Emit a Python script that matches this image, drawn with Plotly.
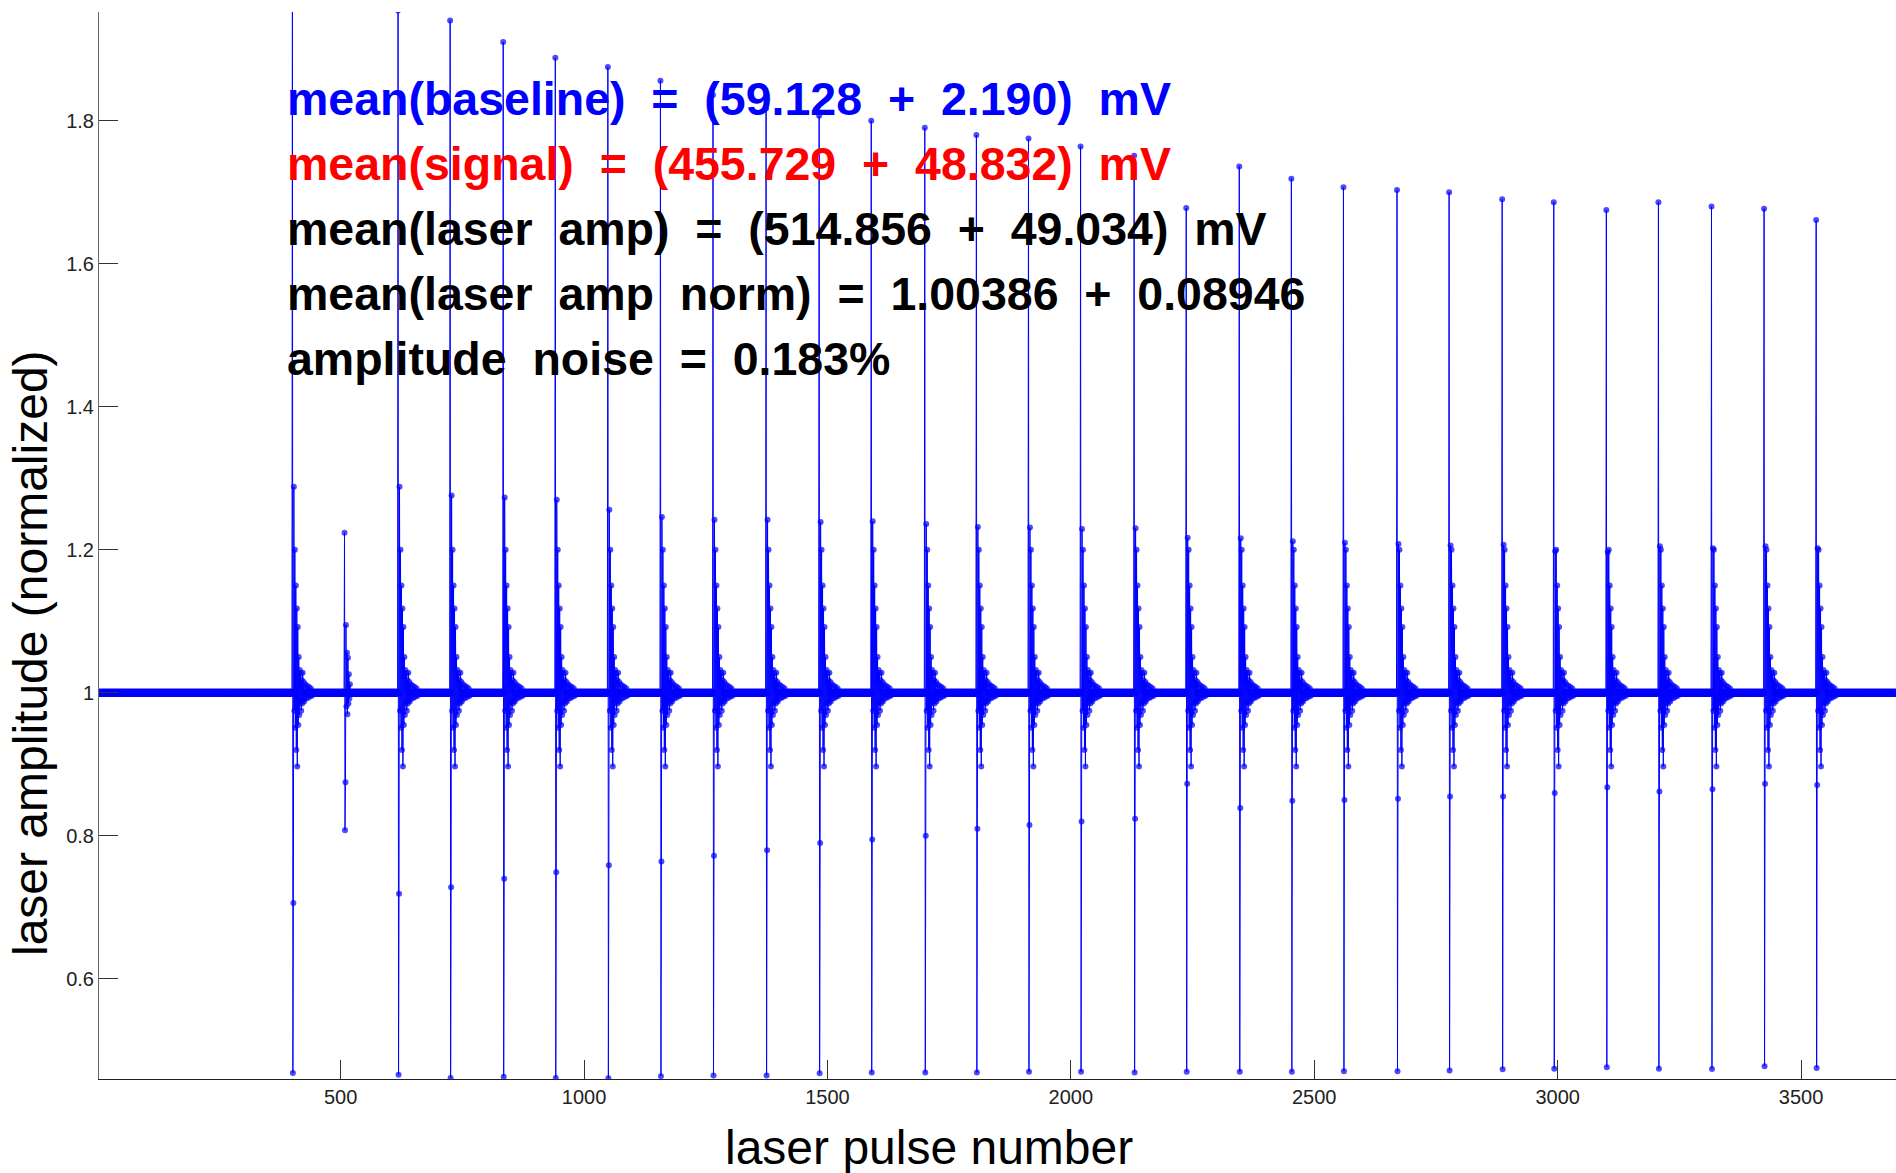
import numpy as np
import plotly.graph_objects as go

# ---------------- data ----------------
n_pulses = 3700
baseline_level = 1.0

# main disturbance events: pulse number of the big spike
event_pulse = [401, 618, 725, 834, 941, 1049, 1157, 1265, 1374, 1483, 1590, 1700,
               1806, 1913, 2020, 2130, 2237, 2346, 2453, 2560, 2670, 2777, 2886,
               2992, 3100, 3207, 3316, 3424, 3531]
event_peak = [2.02, 1.954, 1.94, 1.91, 1.888, 1.875, 1.856, 1.836, 1.817, 1.807, 1.80, 1.79,
              1.78, 1.775, 1.764, 1.751, 1.678, 1.736, 1.719, 1.707, 1.703, 1.70, 1.69,
              1.686, 1.675, 1.686, 1.680, 1.677, 1.661]
event_trough = [0.4685, 0.466, 0.4615, 0.463, 0.4615, 0.461, 0.464, 0.465, 0.465, 0.468,
                0.469, 0.469, 0.469, 0.470, 0.470, 0.469, 0.470, 0.470, 0.470, 0.471,
                0.471, 0.472, 0.4737, 0.4745, 0.4765, 0.4745, 0.474, 0.478, 0.4755]
event_low2 = [0.706, 0.719, 0.728, 0.740, 0.749, 0.759, 0.764, 0.772, 0.780, 0.790, 0.795,
              0.800, 0.810, 0.815, 0.820, 0.824, 0.873, 0.839, 0.849, 0.850, 0.852, 0.855,
              0.855, 0.860, 0.868, 0.862, 0.865, 0.873, 0.871]
event_high1 = [1.288, 1.288, 1.276, 1.273, 1.270, 1.256, 1.246, 1.242, 1.242, 1.239, 1.240,
               1.236, 1.232, 1.231, 1.229, 1.230, 1.217, 1.216, 1.212, 1.210, 1.208, 1.206,
               1.207, 1.198, 1.197, 1.205, 1.202, 1.205, 1.202]

# ringing after each event (pulse offset after the spike, amplitude)
ring_offsets = [4, 5, 6, 7, 8, 9, 10, 11, 12, 13, 14, 15, 16, 17, 18, 19, 20, 21, 22, 23,
                24, 26, 28, 30, 32, 34, 36, 38, 40]
ring_values = [0.975, 1.200, 0.951, 1.150, 0.920, 1.118, 0.897, 1.092, 0.955, 1.050, 0.969,
               1.032, 0.986, 1.027, 0.975, 1.018, 0.985, 1.028, 0.990, 1.015, 0.988, 1.012,
               0.992, 1.010, 0.993, 1.008, 0.995, 1.006, 0.996]

# the small event near pulse 508
small_pulse = 508
small_values = [1.224, 0.808, 0.875, 1.095, 0.981, 1.056, 0.970, 1.049, 0.985, 1.026,
                0.992, 1.012]

x_ticks = [500, 1000, 1500, 2000, 2500, 3000, 3500]
y_ticks = [0.6, 0.8, 1.0, 1.2, 1.4, 1.6, 1.8]
y_ticktext = ["0.6", "0.8", "1", "1.2", "1.4", "1.6", "1.8"]

text_lines = [
    ("mean(baseline)  =  (59.128  +  2.190)  mV", "#0000ff"),
    ("mean(signal)  =  (455.729  +  48.832)  mV", "#ff0000"),
    ("mean(laser  amp)  =  (514.856  +  49.034)  mV", "#000000"),
    ("mean(laser  amp  norm)  =  1.00386  +  0.08946", "#000000"),
    ("amplitude  noise  =  0.183%", "#000000"),
]

# ---------------- build series ----------------
x = np.arange(1, n_pulses + 1)
y = np.full(n_pulses, baseline_level)
for p, pk, tr, lo, hi in zip(event_pulse, event_peak, event_trough, event_low2, event_high1):
    i = p - 1
    y[i] = pk
    y[i + 1] = tr
    y[i + 2] = lo
    y[i + 3] = hi
    for off, v in zip(ring_offsets, ring_values):
        y[i + off] = v
for k, v in enumerate(small_values):
    y[small_pulse - 1 + k] = v

sizes = np.where(y == baseline_level, 8, 6)

fig = go.Figure()
fig.add_trace(go.Scatter(
    x=x, y=y, mode="lines+markers",
    line=dict(color="#0000ff", width=1),
    marker=dict(color="#0000ff", size=sizes, line=dict(width=0)),
    showlegend=False, hoverinfo="skip",
))

FONT = "Liberation Sans, Arial, sans-serif"

# plot area geometry (pixels)
W, H = 1896, 1173
L, R, T, B = 99, 0, 12, 94
pw, ph = W - L - R, H - T - B

def px(xp):
    return (xp - L) / pw

def py(yp):
    return (H - B - yp) / ph

annotations = []
for k, (txt, col) in enumerate(text_lines):
    annotations.append(dict(
        text="<b>" + txt.replace(" ", "\u00a0") + "</b>", xref="paper", yref="paper",
        x=px(285), y=py(99 + 65 * k), xanchor="left", yanchor="middle",
        showarrow=False, font=dict(family=FONT, size=46.5, color=col),
    ))

annotations.append(dict(
    text="laser pulse number", xref="paper", yref="paper",
    x=px(929), y=py(1147), xanchor="center", yanchor="middle",
    showarrow=False, font=dict(family=FONT, size=48, color="#000000"),
))
annotations.append(dict(
    text="laser amplitude (normalized)", xref="paper", yref="paper",
    x=px(31), y=py(653), xanchor="center", yanchor="middle", textangle=-90,
    showarrow=False, font=dict(family=FONT, size=48, color="#000000"),
))

fig.update_layout(
    width=W, height=H,
    margin=dict(l=L, r=R, t=T, b=B, pad=0),
    paper_bgcolor="white", plot_bgcolor="white",
    annotations=annotations,
    xaxis=dict(
        range=[3.7, 3695], tickvals=x_ticks, ticks="inside", ticklen=19, tickwidth=1,
        tickcolor="#333333", showline=True, linecolor="#222222", linewidth=1,
        showgrid=False, zeroline=False,
        tickfont=dict(family=FONT, size=20, color="#222222"),
    ),
    yaxis=dict(
        range=[0.46, 1.952], tickvals=y_ticks, ticktext=y_ticktext, ticks="inside",
        ticklen=19, tickwidth=1, tickcolor="#333333", showline=True,
        linecolor="#666666", linewidth=1, showgrid=False, zeroline=False,
        tickfont=dict(family=FONT, size=20, color="#222222"),
    ),
)

fig.write_html("out.html")
